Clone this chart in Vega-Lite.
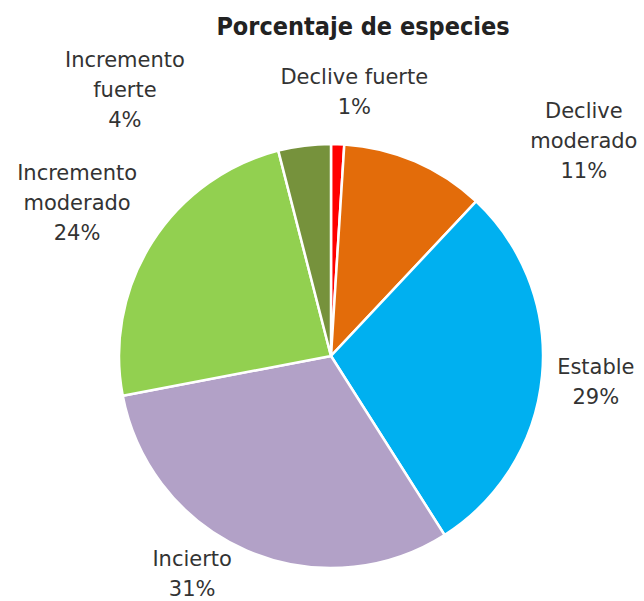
{
  "$schema": "https://vega.github.io/schema/vega-lite/v6.json",
  "autosize": {"type": "none"},
  "width": 626,
  "height": 490,
  "padding": {"left": 18, "top": 111, "right": 0, "bottom": 0},
  "background": "white",
  "title": {
    "text": "Porcentaje de especies",
    "frame": "group",
    "anchor": "middle",
    "offset": 10,
    "dx": 32,
    "font": "DejaVu Sans Condensed",
    "fontWeight": "bold",
    "fontSize": 25,
    "color": "#222222"
  },
  "config": {
    "view": {"stroke": null},
    "text": {"radius": 264, "lineBreak": "\n", "lineHeight": 30, "font": "DejaVu Sans", "fontSize": 21, "fill": "#333333", "baseline": "middle", "align": "center"}
  },
  "data": {
    "values": [
      {"categoria": "Declive fuerte", "etiqueta": "Declive fuerte\n1%", "porcentaje": 1, "orden": 1},
      {"categoria": "Declive moderado", "etiqueta": "Declive\nmoderado\n11%", "porcentaje": 11, "orden": 2},
      {"categoria": "Estable", "etiqueta": "Estable\n29%", "porcentaje": 29, "orden": 3},
      {"categoria": "Incierto", "etiqueta": "Incierto\n31%", "porcentaje": 31, "orden": 4},
      {"categoria": "Incremento moderado", "etiqueta": "Incremento\nmoderado\n24%", "porcentaje": 24, "orden": 5},
      {"categoria": "Incremento fuerte", "etiqueta": "Incremento\nfuerte\n4%", "porcentaje": 4, "orden": 6}
    ]
  },
  "transform": [
    {"stack": "porcentaje", "groupby": [], "sort": [{"field": "orden", "order": "ascending"}], "as": ["t0", "t1"]},
    {"calculate": "(datum.t0 + datum.t1) / 2", "as": "tmid"}
  ],
  "layer": [
    {
      "mark": {"type": "arc", "outerRadius": 212, "stroke": "white", "strokeWidth": 2.5},
      "encoding": {
        "theta": {"field": "t0", "type": "quantitative", "scale": {"domain": [0, 100]}},
        "theta2": {"field": "t1"},
        "color": {
          "field": "categoria",
          "type": "nominal",
          "legend": null,
          "scale": {
            "domain": ["Declive fuerte", "Declive moderado", "Estable", "Incierto", "Incremento moderado", "Incremento fuerte"],
            "range": ["#FF0000", "#E36C0A", "#00B0F0", "#B2A1C7", "#92D050", "#76923C"]
          }
        }
      }
    },
    {
      "transform": [{"filter": "datum.categoria == 'Declive fuerte'"}],
      "mark": {"type": "text", "dx": 15, "dy": -14},
      "encoding": {"theta": {"field": "tmid", "type": "quantitative", "scale": {"domain": [0, 100]}}, "text": {"field": "etiqueta"}}
    },
    {
      "transform": [{"filter": "datum.categoria == 'Declive moderado'"}],
      "mark": {"type": "text", "dx": 148, "dy": -2},
      "encoding": {"theta": {"field": "tmid", "type": "quantitative", "scale": {"domain": [0, 100]}}, "text": {"field": "etiqueta"}}
    },
    {
      "transform": [{"filter": "datum.categoria == 'Estable'"}],
      "mark": {"type": "text", "dx": 2, "dy": -13},
      "encoding": {"theta": {"field": "tmid", "type": "quantitative", "scale": {"domain": [0, 100]}}, "text": {"field": "etiqueta"}}
    },
    {
      "transform": [{"filter": "datum.categoria == 'Incierto'"}],
      "mark": {"type": "text", "dx": -34, "dy": -38},
      "encoding": {"theta": {"field": "tmid", "type": "quantitative", "scale": {"domain": [0, 100]}}, "text": {"field": "etiqueta"}}
    },
    {
      "transform": [{"filter": "datum.categoria == 'Incremento moderado'"}],
      "mark": {"type": "text", "dx": -31, "dy": -41},
      "encoding": {"theta": {"field": "tmid", "type": "quantitative", "scale": {"domain": [0, 100]}}, "text": {"field": "etiqueta"}}
    },
    {
      "transform": [{"filter": "datum.categoria == 'Incremento fuerte'"}],
      "mark": {"type": "text", "dx": -173, "dy": -33},
      "encoding": {"theta": {"field": "tmid", "type": "quantitative", "scale": {"domain": [0, 100]}}, "text": {"field": "etiqueta"}}
    }
  ]
}
